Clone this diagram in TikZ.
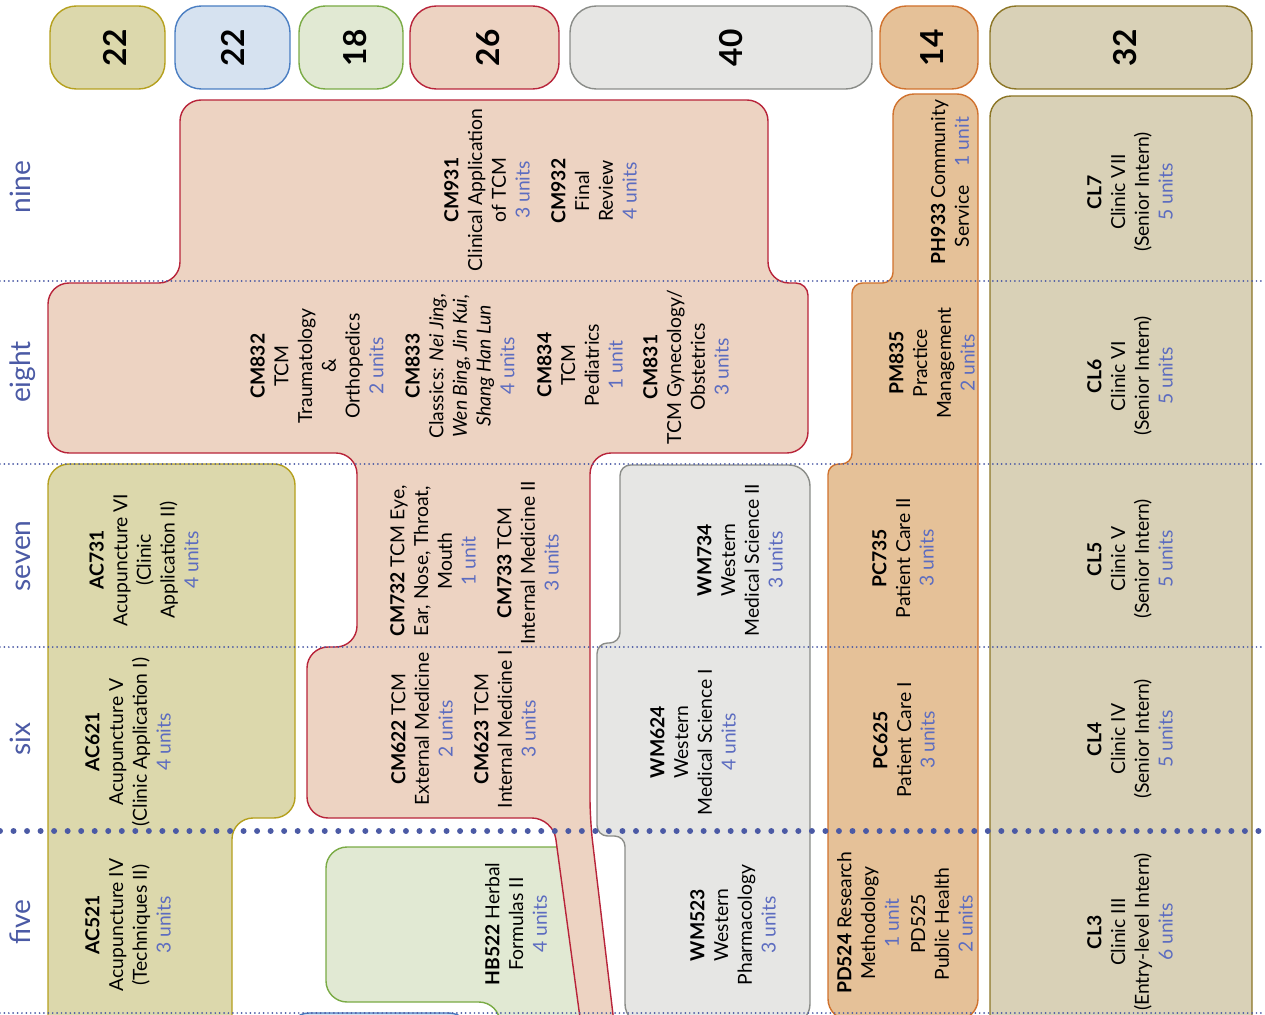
\documentclass[tikz,border=0pt]{standalone}
\usepackage{fontspec}
\setmainfont{Lato}
\usepackage{tikz}

\newcommand{\credits}[1]{{\color{unitblue}#1}}

\begin{document}
\begin{tikzpicture}
		[x=0.2mm,y=-0.2mm,line join=round,
		%Styles
		course shape/.style={line width=0.8pt,rounded corners=12pt},
		total box/.style={line width=0.8pt,rounded corners=15pt},
		total text/.style={rotate=90,inner sep=0pt,font=\fontsize{18}{20}\selectfont\bfseries},
		year label/.style={rotate=90,anchor=base,inner sep=0pt,text=rowblue,font=\fontsize{16}{18}\selectfont},
		course/.style={rotate=90,align=center,inner sep=0pt,font=\fontsize{11}{13.5}\selectfont},
		term line/.style={rowblue,line width=1.1pt,line cap=round,dash pattern=on 0pt off 2.5pt},
		year line/.style={rowblue,line width=3.4pt,line cap=round,dash pattern=on 0pt off 7.7pt}
		]
		
		%Colors
		\definecolor{rowblue}{RGB}{75,90,165}
		\definecolor{unitblue}{RGB}{92,108,192}
		\definecolor{acfill}{RGB}{220,216,172}	\definecolor{acline}{RGB}{181,160,30}
		\definecolor{hxfill}{RGB}{214,226,240}	\definecolor{hxline}{RGB}{74,126,194}
		\definecolor{hbfill}{RGB}{225,233,211}	\definecolor{hbline}{RGB}{122,171,69}
		\definecolor{tcmfill}{RGB}{237,211,194}	\definecolor{tcmline}{RGB}{184,36,58}
		\definecolor{wmfill}{RGB}{230,230,228}	\definecolor{wmline}{RGB}{138,140,136}
		\definecolor{pcfill}{RGB}{229,193,152}	\definecolor{pcline}{RGB}{208,114,46}
		\definecolor{clfill}{RGB}{217,209,183}	\definecolor{clline}{RGB}{140,118,38}
		
		\useasboundingbox (0,0) rectangle (1265,1015);
		\clip (0,0) rectangle (1265,1015);
		
		%The graphic
		
		\draw[course shape,draw=hxline,fill=hxfill] (288,1013) rectangle (470,1080);
		
		\draw[course shape,draw=acline,fill=acfill]
			(48,700) -- (48,464) -- (295,464) -- (295,818) -- (232,818)
			-- (232,1060) -- (48,1060) -- cycle;
		
		\draw[course shape,draw=hbline,fill=hbfill]
			(420,847) -- (590,847) -- (600,1060) -- (500,1060) -- (500,1002)
			-- (326,1002) -- (326,847) -- cycle;
		
		\draw[course shape,draw=tcmline,fill=tcmfill]
			(180,200) -- (180,100) -- (768,100) -- (768,283) [rounded corners=7pt]
			-- (808,283) [rounded corners=12pt]
			-- (808,453) -- (590,453) -- (590,820) -- (616,1040) -- (583,1040)
			-- (553,818) -- (307,818) -- (307,647) -- (357,647) -- (357,453)
			-- (48,453) -- (48,283) -- (180,283) -- cycle;
		
		\draw[course shape,draw=wmline,fill=wmfill]
			(700,465) -- (810,465) -- (810,1025) -- (625,1025) [rounded corners=6pt]
			-- (625,836) -- (597,836) -- (597,643) -- (620,643)
			-- (620,465) [rounded corners=12pt] -- cycle;
		
		\draw[course shape,draw=pcline,fill=pcfill]
			(935,94) -- (978,94) -- (978,1020) -- (828,1020) [rounded corners=6pt]
			-- (828,464) -- (852,464) -- (852,283) -- (893,283) [rounded corners=12pt]
			-- (893,94) -- cycle;
		
		\draw[course shape,draw=clline,fill=clfill] (990,96) rectangle (1252,1060);
		
		\draw[total box,draw=acline,fill=acfill] (50,6) rectangle (165,89);
		\draw[total box,draw=hxline,fill=hxfill] (175,6) rectangle (290,89);
		\draw[total box,draw=hbline,fill=hbfill] (299,6) rectangle (403,89);
		\draw[total box,draw=tcmline,fill=tcmfill] (410,6) rectangle (559,89);
		\draw[total box,draw=wmline,fill=wmfill] (570,6) rectangle (872,89);
		\draw[total box,draw=pcline,fill=pcfill] (880,6) rectangle (978,89);
		\draw[total box,draw=clline,fill=clfill] (990,6) rectangle (1252,89);
		
		\node[total text] (tac) at (115,48) {22};
		\node[total text] (thx) at (233,48) {22};
		\node[total text] (thb) at (355,48) {18};
		\node[total text] (ttcm) at (488,48) {26};
		\node[total text] (twm) at (731,48) {40};
		\node[total text] (tpc) at (932,48) {14};
		\node[total text] (tcl) at (1125,48) {32};
		
		\draw[term line] (0,281) -- (1265,281);
		\draw[term line] (0,464) -- (1265,464);
		\draw[term line] (0,647) -- (1265,647);
		\draw[year line] (0,831) -- (1265,831);
		\draw[term line] (0,1013) -- (1265,1013);
		
		\node[year label] (nine) at (30,187) {nine};
		\node[year label] (eight) at (30,372) {eight};
		\node[year label] (seven) at (30,556) {seven};
		\node[year label] (six) at (30,739) {six};
		\node[year label] (five) at (30,922) {five};
		
		%Term nine
		\node[course] (cm931) at (487,190) {\textbf{CM931}\\Clinical Application\\of TCM\\\credits{3 units}};
		\node[course] (cm932) at (594,191) {\textbf{CM932}\\Final\\Review\\\credits{4 units}};
		\node[course] (ph933) at (950,182) {\textbf{PH933} Community\\Service\hspace{1em}\credits{1 unit}};
		\node[course] (cl7) at (1130,192) {\textbf{CL7}\\Clinic VII\\(Senior Intern)\\\credits{5 units}};
		
		%Term eight
		\node[course] (cm832) at (317,366) {\textbf{CM832}\\TCM\\Traumatology\\\&\\Orthopedics\\\credits{2 units}};
		\node[course] (cm833) at (460,366) {\textbf{CM833}\\Classics: \textit{Nei Jing,}\\\textit{Wen Bing, Jin Kui,}\\\textit{Shang Han Lun}\\\credits{4 units}};
		\node[course] (cm834) at (580,365) {\textbf{CM834}\\TCM\\Pediatrics\\\credits{1 unit}};
		\node[course] (cm831) at (686,367) {\textbf{CM831}\\TCM Gynecology/\\Obstetrics\\\credits{3 units}};
		\node[course] (pm835) at (932,363) {\textbf{PM835}\\Practice\\Management\\\credits{2 units}};
		\node[course] (cl6) at (1130,376) {\textbf{CL6}\\Clinic VI\\(Senior Intern)\\\credits{5 units}};
		
		%Term seven
		\node[course] (ac731) at (144,560) {\textbf{AC731}\\Acupuncture VI\\(Clinic\\Application II)\\\credits{4 units}};
		\node[course] (cm732) at (433,561) {\textbf{CM732} TCM Eye,\\Ear, Nose, Throat,\\Mouth\\\credits{1 unit}};
		\node[course] (cm733) at (528,563) {\textbf{CM733} TCM\\Internal Medicine II\\\credits{3 units}};
		\node[course] (wm734) at (740,560) {\textbf{WM734}\\Western\\Medical Science II\\\credits{3 units}};
		\node[course] (pc735) at (903,558) {\textbf{PC735}\\Patient Care II\\\credits{3 units}};
		\node[course] (cl5) at (1130,559) {\textbf{CL5}\\Clinic V\\(Senior Intern)\\\credits{5 units}};
		
		%Term six
		\node[course] (ac621) at (128,742) {\textbf{AC621}\\Acupuncture V\\(Clinic Application I)\\\credits{4 units}};
		\node[course] (cm622) at (422,729) {\textbf{CM622} TCM\\External Medicine\\\credits{2 units}};
		\node[course] (cm623) at (505,729) {\textbf{CM623} TCM\\Internal Medicine I\\\credits{3 units}};
		\node[course] (wm624) at (693,742) {\textbf{WM624}\\Western\\Medical Science I\\\credits{4 units}};
		\node[course] (pc625) at (904,740) {\textbf{PC625}\\Patient Care I\\\credits{3 units}};
		\node[course] (cl4) at (1130,739) {\textbf{CL4}\\Clinic IV\\(Senior Intern)\\\credits{5 units}};
		
		%Term five
		\node[course] (ac521) at (128,925) {\textbf{AC521}\\Acupuncture IV\\(Techniques II)\\\credits{3 units}};
		\node[course] (hb522) at (516,924) {\textbf{HB522} Herbal\\Formulas II\\\credits{4 units}};
		\node[course] (wm523) at (733,925) {\textbf{WM523}\\Western\\Pharmacology\\\credits{3 units}};
		\node[course] (pd524) at (868,923) {\textbf{PD524} Research\\Methodology\\\credits{1 unit}};
		\node[course] (pd525) at (942,924) {PD525\\Public Health\\\credits{2 units}};
		\node[course] (cl3) at (1130,932) {\textbf{CL3}\\Clinic III\\(Entry-level Intern)\\\credits{6 units}};
	\end{tikzpicture}
\end{document}
